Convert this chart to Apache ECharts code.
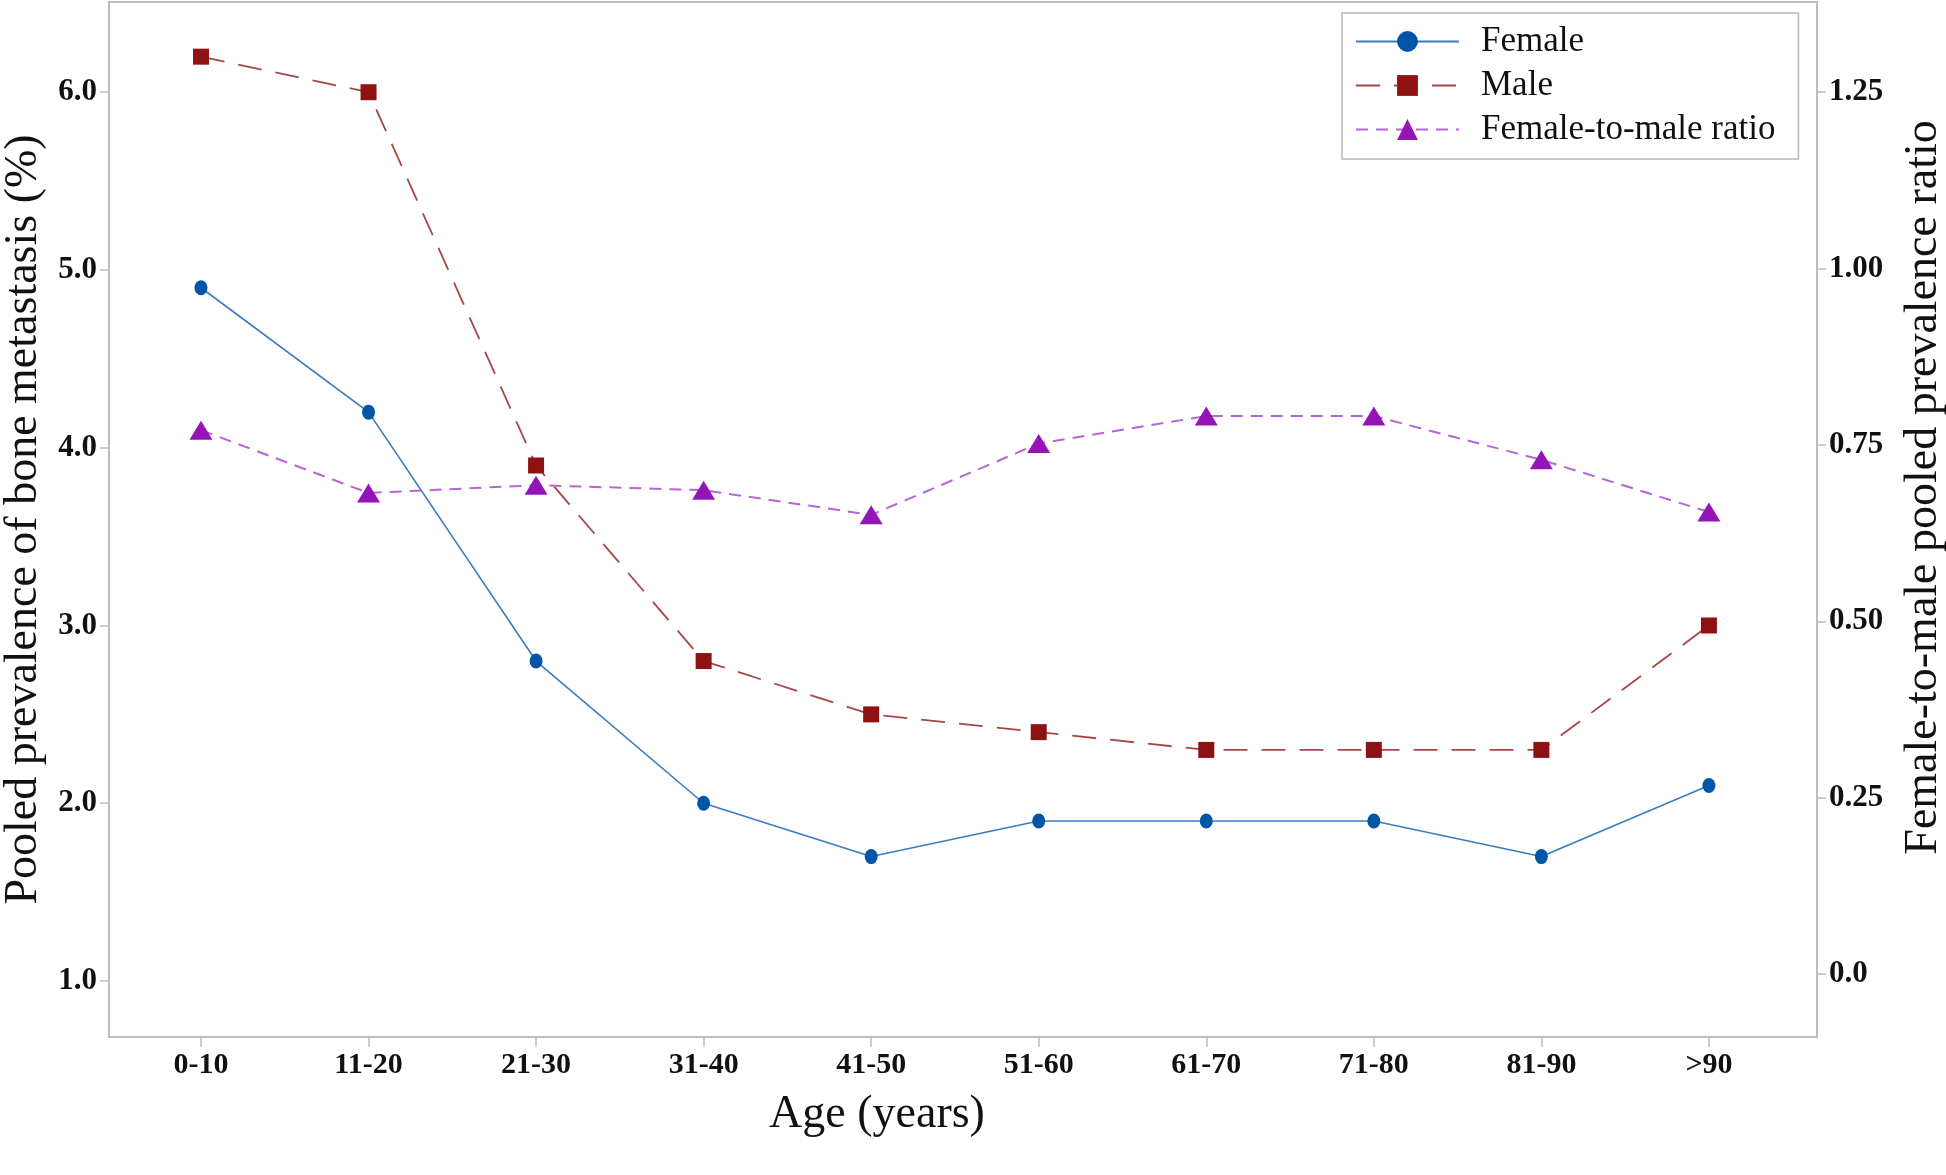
<!DOCTYPE html>
<html>
<head>
<meta charset="utf-8">
<script src="https://cdn.jsdelivr.net/npm/echarts@6/dist/echarts.min.js"></script>
<style>
html,body{margin:0;padding:0;background:#fff;}
#chart{width:1946px;height:1175px;}
</style>
</head>
<body>
<div id="chart"></div>
<script>
// ---- data ----
const ageGroups = ['0-10','11-20','21-30','31-40','41-50','51-60','61-70','71-80','81-90','>90'];
const femalePrev = [4.9, 4.2, 2.8, 2.0, 1.7, 1.9, 1.9, 1.9, 1.7, 2.1];
const malePrev   = [6.2, 6.0, 3.9, 2.8, 2.5, 2.4, 2.3, 2.3, 2.3, 3.0];
const ratioFM    = [0.771, 0.682, 0.693, 0.686, 0.651, 0.752, 0.791, 0.791, 0.729, 0.655];
const leftTicks  = [1, 2, 3, 4, 5, 6];
const rightTicks = [0, 0.25, 0.5, 0.75, 1, 1.25];
const xTicks     = ageGroups.map((_, i) => i);

const serif = "'Liberation Serif','Times New Roman',serif";
const axisGray = '#bdbdbd';

const chart = echarts.init(document.getElementById('chart'), null, {renderer: 'canvas'});
chart.setOption({
  animation: false,
  backgroundColor: '#fff',
  grid: {
    left: 109, right: 129, top: 2, bottom: 138,
    outerBoundsMode: 'none', containLabel: false,
    show: true, borderColor: axisGray, borderWidth: 2, backgroundColor: '#fff'
  },
  legend: {
    orient: 'vertical',
    left: 1342, top: 13,
    padding: [11, 23, 12, 13],
    itemWidth: 103, itemHeight: 26, itemGap: 9,
    borderColor: '#b8b8b8', borderWidth: 1.5,
    backgroundColor: '#fff',
    textStyle: {fontFamily: serif, fontSize: 35, color: '#111', padding: [0, 0, 0, 17]},
    data: ['Female', 'Male', 'Female-to-male ratio']
  },
  xAxis: {
    type: 'value',
    min: -0.549, max: 9.645,
    name: 'Age (years)',
    nameLocation: 'middle',
    nameGap: 55,
    nameTextStyle: {fontFamily: serif, fontSize: 46, color: '#111', padding: [0, 172, 0, 0]},
    axisLine: {show: true, onZero: false, lineStyle: {color: axisGray, width: 2}},
    axisTick: {show: true, customValues: xTicks, length: 10, lineStyle: {color: axisGray, width: 1.5}},
    axisLabel: {
      customValues: xTicks, margin: 13,
      fontFamily: serif, fontWeight: 'bold', fontSize: 30, color: '#111',
      formatter: v => ageGroups[Math.round(v)]
    },
    splitLine: {show: false}
  },
  yAxis: [
    {
      type: 'value', position: 'left',
      min: 0.685, max: 6.5075,
      name: 'Pooled prevalence of bone metastasis (%)',
      nameLocation: 'middle', nameRotate: 90, nameGap: 62,
      nameTextStyle: {fontFamily: serif, fontSize: 46, color: '#111'},
      axisLine: {show: true, onZero: false, lineStyle: {color: axisGray, width: 2}},
      axisTick: {show: true, customValues: leftTicks, length: 9, lineStyle: {color: axisGray, width: 1.5}},
      axisLabel: {
        customValues: leftTicks, margin: 12,
        fontFamily: serif, fontWeight: 'bold', fontSize: 31, color: '#111',
        formatter: v => v.toFixed(1)
      },
      splitLine: {show: false}
    },
    {
      type: 'value', position: 'right',
      min: -0.089, max: 1.3778,
      name: 'Female-to-male pooled prevalence ratio',
      nameLocation: 'middle', nameRotate: 90, nameGap: 84,
      nameTextStyle: {fontFamily: serif, fontSize: 46, color: '#111', padding: [0, 0, 0, 64]},
      axisLine: {show: true, onZero: false, lineStyle: {color: axisGray, width: 2}},
      axisTick: {show: true, customValues: rightTicks, length: 9, lineStyle: {color: axisGray, width: 1.5}},
      axisLabel: {
        customValues: rightTicks, margin: 12,
        fontFamily: serif, fontWeight: 'bold', fontSize: 31, color: '#111',
        formatter: v => (v === 0 ? '0.0' : v.toFixed(2))
      },
      splitLine: {show: false}
    }
  ],
  series: [
    {
      name: 'Female', type: 'line', yAxisIndex: 0,
      data: femalePrev.map((v, i) => [i, v]),
      symbol: 'circle', symbolSize: [13, 15],
      lineStyle: {color: '#3b7bc0', width: 1.6, type: 'solid'},
      itemStyle: {color: '#0055a7'},
      z: 3
    },
    {
      name: 'Male', type: 'line', yAxisIndex: 0,
      data: malePrev.map((v, i) => [i, v]),
      symbol: 'rect', symbolSize: [16, 16],
      lineStyle: {color: '#a84646', width: 1.8, type: [24, 14]},
      itemStyle: {color: '#8e1212'},
      z: 3
    },
    {
      name: 'Female-to-male ratio', type: 'line', yAxisIndex: 1,
      data: ratioFM.map((v, i) => [i, v]),
      symbol: 'triangle', symbolSize: [23, 19],
      lineStyle: {color: '#b665d6', width: 2, type: [12, 8]},
      itemStyle: {color: '#9414b8'},
      z: 3
    }
  ]
});
</script>
</body>
</html>
